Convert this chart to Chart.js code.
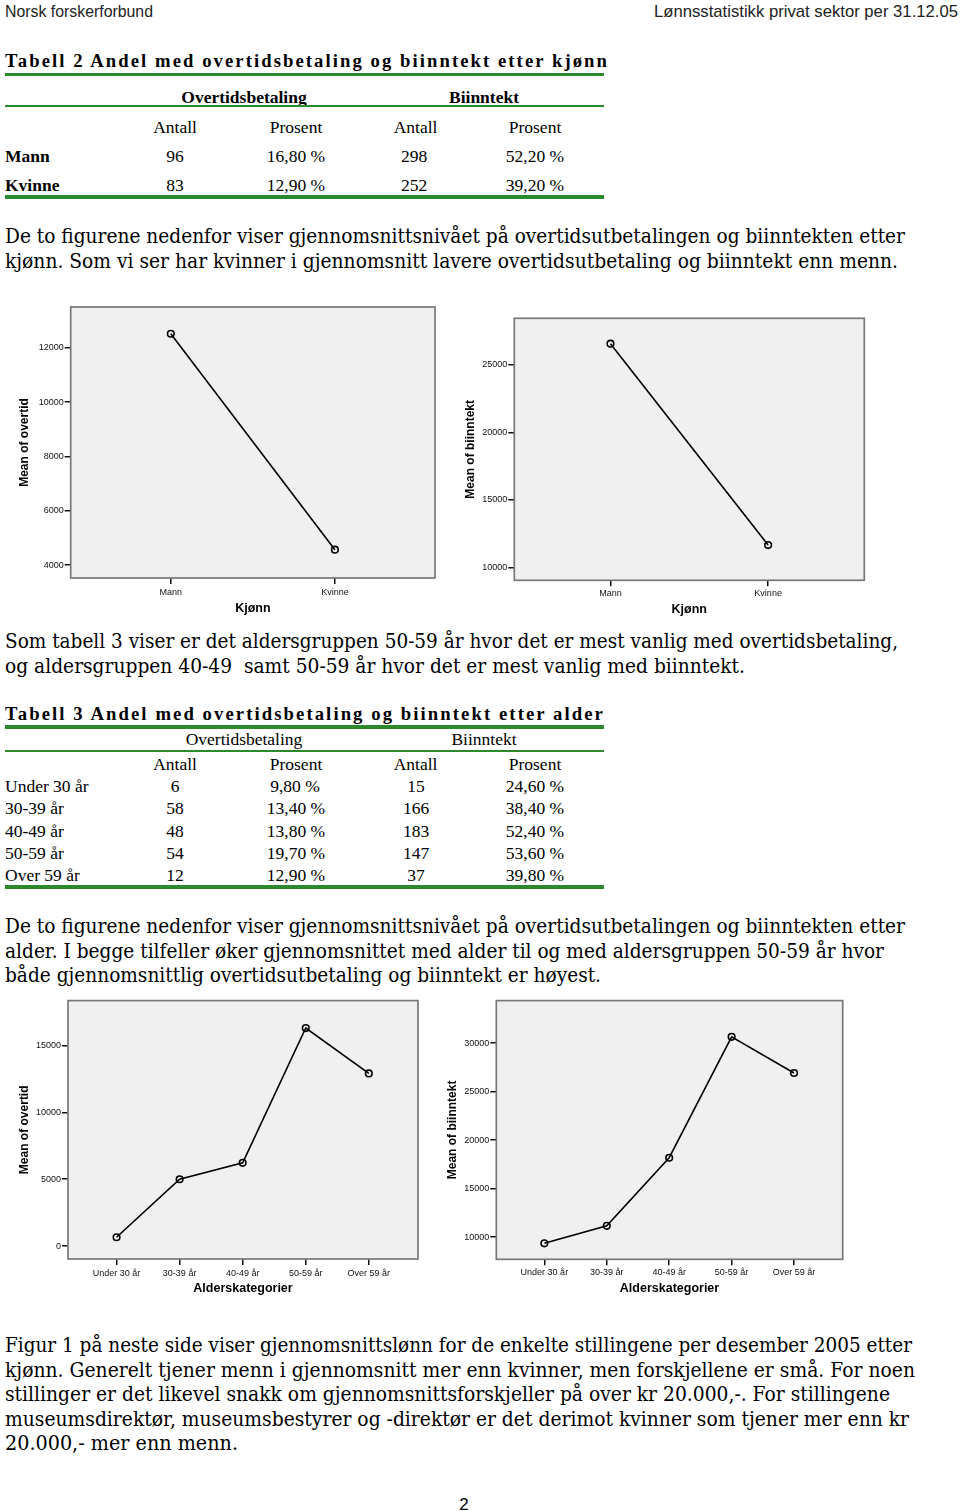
<!DOCTYPE html>
<html>
<head>
<meta charset="utf-8">
<script src="https://cdn.jsdelivr.net/npm/chart.js@4.4.1/dist/chart.umd.min.js"></script>
<style>
  html, body { margin:0; padding:0; background:#fff; }
  body { width:960px; height:1511px; position:relative; overflow:hidden; }
  .t { position:absolute; white-space:pre; color:#000; transform-origin:0 0; line-height:1.2; }
  .hdr { font-family:"Liberation Sans Narrow","Liberation Sans",Arial,sans-serif; font-size:17px; color:#222; }
  .ttl { font-family:"Liberation Serif","Times New Roman",serif; font-weight:bold; font-size:18px; letter-spacing:2px; }
  .tb { font-family:"Liberation Serif","Times New Roman",serif; font-size:17.5px; }
  .b { font-weight:bold; }
  .p { font-family:"DejaVu Serif",Georgia,serif; font-size:19.5px; }
  .pg { font-family:"Liberation Sans",Arial,sans-serif; font-size:17px; }
  .gl { position:absolute; background:#2b8a2b; left:5px; width:599px; }
  canvas { position:absolute; }
</style>
</head>
<body>
<div class="t hdr" data-x1="5" data-x2="153" data-bl="17">Norsk forskerforbund</div>
<div class="t hdr" data-x1="654" data-x2="958" data-bl="17">Lønnsstatistikk privat sektor per 31.12.05</div>

<div class="t ttl" data-x1="5" data-x2="609" data-bl="67">Tabell 2 Andel med overtidsbetaling og biinntekt etter kjønn</div>
<div class="gl" style="top:72.5px;height:3.5px;"></div>
<div class="t tb b" data-cx="244" data-bl="102.5">Overtidsbetaling</div>
<div class="t tb b" data-cx="484" data-bl="102.5">Biinntekt</div>
<div class="gl" style="top:105px;height:2px;"></div>
<div class="t tb" data-cx="175" data-bl="132.5">Antall</div>
<div class="t tb" data-cx="296" data-bl="132.5">Prosent</div>
<div class="t tb" data-cx="415.6" data-bl="132.5">Antall</div>
<div class="t tb" data-cx="535" data-bl="132.5">Prosent</div>
<div class="t tb b" data-lx="5" data-bl="161.5">Mann</div>
<div class="t tb" data-cx="175" data-bl="161.5">96</div>
<div class="t tb" data-cx="296" data-bl="161.5">16,80 %</div>
<div class="t tb" data-cx="414" data-bl="161.5">298</div>
<div class="t tb" data-cx="535" data-bl="161.5">52,20 %</div>
<div class="t tb b" data-lx="5" data-bl="191">Kvinne</div>
<div class="t tb" data-cx="175" data-bl="191">83</div>
<div class="t tb" data-cx="296" data-bl="191">12,90 %</div>
<div class="t tb" data-cx="414" data-bl="191">252</div>
<div class="t tb" data-cx="535" data-bl="191">39,20 %</div>
<div class="gl" style="top:195.3px;height:3.5px;"></div>

<div class="t p" data-x1="5" data-x2="905" data-bl="243">De to figurene nedenfor viser gjennomsnittsnivået på overtidsutbetalingen og biinntekten etter</div>
<div class="t p" data-x1="5" data-x2="898" data-bl="268">kjønn. Som vi ser har kvinner i gjennomsnitt lavere overtidsutbetaling og biinntekt enn menn.</div>

<canvas id="c1" width="450" height="320" style="left:0px;top:300px;"></canvas>
<canvas id="c2" width="450" height="310" style="left:450px;top:310px;"></canvas>

<div class="t p" data-x1="5" data-x2="898" data-bl="648">Som tabell 3 viser er det aldersgruppen 50-59 år hvor det er mest vanlig med overtidsbetaling,</div>
<div class="t p" data-x1="5" data-x2="745" data-bl="673">og aldersgruppen 40-49  samt 50-59 år hvor det er mest vanlig med biinntekt.</div>

<div class="t ttl" data-x1="5" data-x2="605" data-bl="719.5">Tabell 3 Andel med overtidsbetaling og biinntekt etter alder</div>
<div class="gl" style="top:725px;height:3.5px;"></div>
<div class="t tb" data-cx="244" data-bl="744.5">Overtidsbetaling</div>
<div class="t tb" data-cx="484" data-bl="744.5">Biinntekt</div>
<div class="gl" style="top:749.8px;height:2px;"></div>
<div class="t tb" data-cx="175" data-bl="769.5">Antall</div>
<div class="t tb" data-cx="296" data-bl="769.5">Prosent</div>
<div class="t tb" data-cx="415.6" data-bl="769.5">Antall</div>
<div class="t tb" data-cx="535" data-bl="769.5">Prosent</div>

<div class="t tb" data-lx="5" data-bl="791.5">Under 30 år</div>
<div class="t tb" data-cx="175" data-bl="791.5">6</div>
<div class="t tb" data-cx="295" data-bl="791.5">9,80 %</div>
<div class="t tb" data-cx="416" data-bl="791.5">15</div>
<div class="t tb" data-cx="535" data-bl="791.5">24,60 %</div>

<div class="t tb" data-lx="5" data-bl="814">30-39 år</div>
<div class="t tb" data-cx="175" data-bl="814">58</div>
<div class="t tb" data-cx="296" data-bl="814">13,40 %</div>
<div class="t tb" data-cx="416" data-bl="814">166</div>
<div class="t tb" data-cx="535" data-bl="814">38,40 %</div>

<div class="t tb" data-lx="5" data-bl="836.5">40-49 år</div>
<div class="t tb" data-cx="175" data-bl="836.5">48</div>
<div class="t tb" data-cx="296" data-bl="836.5">13,80 %</div>
<div class="t tb" data-cx="416" data-bl="836.5">183</div>
<div class="t tb" data-cx="535" data-bl="836.5">52,40 %</div>

<div class="t tb" data-lx="5" data-bl="858.5">50-59 år</div>
<div class="t tb" data-cx="175" data-bl="858.5">54</div>
<div class="t tb" data-cx="296" data-bl="858.5">19,70 %</div>
<div class="t tb" data-cx="416" data-bl="858.5">147</div>
<div class="t tb" data-cx="535" data-bl="858.5">53,60 %</div>

<div class="t tb" data-lx="5" data-bl="880.5">Over 59 år</div>
<div class="t tb" data-cx="175" data-bl="880.5">12</div>
<div class="t tb" data-cx="296" data-bl="880.5">12,90 %</div>
<div class="t tb" data-cx="416" data-bl="880.5">37</div>
<div class="t tb" data-cx="535" data-bl="880.5">39,80 %</div>
<div class="gl" style="top:885.3px;height:3.5px;"></div>

<div class="t p" data-x1="5" data-x2="905" data-bl="933">De to figurene nedenfor viser gjennomsnittsnivået på overtidsutbetalingen og biinntekten etter</div>
<div class="t p" data-x1="5" data-x2="884" data-bl="957.5">alder. I begge tilfeller øker gjennomsnittet med alder til og med aldersgruppen 50-59 år hvor</div>
<div class="t p" data-x1="5" data-x2="601" data-bl="982">både gjennomsnittlig overtidsutbetaling og biinntekt er høyest.</div>

<canvas id="c3" width="430" height="305" style="left:0px;top:995px;"></canvas>
<canvas id="c4" width="430" height="305" style="left:430px;top:995px;"></canvas>

<div class="t p" data-x1="5" data-x2="912" data-bl="1352">Figur 1 på neste side viser gjennomsnittslønn for de enkelte stillingene per desember 2005 etter</div>
<div class="t p" data-x1="5" data-x2="915" data-bl="1376.5">kjønn. Generelt tjener menn i gjennomsnitt mer enn kvinner, men forskjellene er små. For noen</div>
<div class="t p" data-x1="5" data-x2="890" data-bl="1401">stillinger er det likevel snakk om gjennomsnittsforskjeller på over kr 20.000,-. For stillingene</div>
<div class="t p" data-x1="5" data-x2="909" data-bl="1425.5">museumsdirektør, museumsbestyrer og -direktør er det derimot kvinner som tjener mer enn kr</div>
<div class="t p" data-x1="5" data-x2="238" data-bl="1450">20.000,- mer enn menn.</div>

<div class="t pg" data-cx="464" data-bl="1510">2</div>

<script>
// ---------- DATA ----------
const genderLabels = ['Mann', 'Kvinne'];
const overtidByGender = [12515, 4573];
const biinntektByGender = [26580, 11654];

const ageLabels = ['Under 30 år', '30-39 år', '40-49 år', '50-59 år', 'Over 59 år'];
const overtidByAge = [667, 5000, 6230, 16300, 12911];
const biinntektByAge = [9354, 11159, 18180, 30646, 26918];

const overtidGenderTicks = [4000, 6000, 8000, 10000, 12000];
const biinntektGenderTicks = [10000, 15000, 20000, 25000];
const overtidAgeTicks = [0, 5000, 10000, 15000];
const biinntektAgeTicks = [10000, 15000, 20000, 25000, 30000];

// ---------- TEXT LAYOUT ----------
document.querySelectorAll('.t').forEach(el => {
  const probe = document.createElement('span');
  probe.style.cssText = 'display:inline-block;width:0;height:0;vertical-align:baseline;';
  el.appendChild(probe);
  const w = el.getBoundingClientRect().width;
  const blOff = probe.offsetTop;
  const bl = parseFloat(el.dataset.bl);
  el.style.top = (bl - blOff) + 'px';
  if (el.dataset.x1 !== undefined) {
    const x1 = parseFloat(el.dataset.x1), x2 = parseFloat(el.dataset.x2);
    el.style.left = x1 + 'px';
    el.style.transform = 'scaleX(' + ((x2 - x1) / w) + ')';
  } else if (el.dataset.cx !== undefined) {
    el.style.left = (parseFloat(el.dataset.cx) - w / 2) + 'px';
  } else {
    el.style.left = parseFloat(el.dataset.lx) + 'px';
  }
});

// ---------- CHARTS ----------
const FONT = '"Liberation Sans", Arial, sans-serif';
const boxPlugin = {
  id: 'box',
  beforeDraw(c) {
    const {ctx, chartArea: a} = c;
    ctx.save();
    ctx.fillStyle = '#f0f0f0';
    ctx.fillRect(a.left, a.top, a.right - a.left, a.bottom - a.top);
    ctx.restore();
  },
  beforeDatasetsDraw(c) {
    const {ctx, chartArea: a} = c;
    ctx.save();
    ctx.strokeStyle = '#777';
    ctx.lineWidth = 1.7;
    ctx.strokeRect(a.left, a.top, a.right - a.left, a.bottom - a.top);
    ctx.restore();
  }
};

function makeChart(id, labels, values, yTicks, g) {
  const a = g.area;
  new Chart(document.getElementById(id), {
    type: 'line',
    data: {
      datasets: [{
        data: values.map((v, i) => ({x: i + 1, y: v})),
        borderColor: '#000',
        borderWidth: 1.6,
        pointRadius: 3.3,
        pointBorderWidth: 1.6,
        pointBackgroundColor: 'rgba(0,0,0,0)',
        pointBorderColor: '#000',
        tension: 0,
        fill: false
      }]
    },
    options: {
      responsive: false,
      animation: false,
      devicePixelRatio: 1,
      layout: {padding: {left: 0, top: a.t, right: g.w - a.r, bottom: 0}},
      plugins: {legend: {display: false}, tooltip: {enabled: false}},
      scales: {
        x: {
          type: 'linear', min: g.xMin, max: g.xMax,
          afterBuildTicks: s => { s.ticks = labels.map((_, i) => ({value: i + 1})); },
          afterFit: s => { s.height = g.h - a.b; s.paddingLeft = 0; s.paddingRight = 0; },
          ticks: {
            callback: v => labels[Math.round(v) - 1] || '',
            autoSkip: false, maxRotation: 0, minRotation: 0,
            padding: g.xLabPad, color: '#111', font: {family: FONT, size: 9}
          },
          grid: {drawOnChartArea: false, drawTicks: true, tickLength: 6, color: '#111', lineWidth: 1.5},
          border: {display: false},
          title: {
            display: true, text: g.xTitle, color: '#000',
            font: {family: FONT, size: 12.5, weight: 'bold'},
            padding: {top: 0, bottom: g.xTitleFromBottom - 7.5}
          }
        },
        y: {
          type: 'linear', min: g.yMin, max: g.yMax,
          afterBuildTicks: s => { s.ticks = yTicks.map(v => ({value: v})); },
          afterFit: s => { s.width = a.l; s.paddingTop = 0; s.paddingBottom = 0; },
          ticks: {
            callback: v => String(v),
            padding: 1, color: '#111', font: {family: FONT, size: 9}
          },
          grid: {drawOnChartArea: false, drawTicks: true, tickLength: 6, color: '#111', lineWidth: 1.5},
          border: {display: false},
          title: {
            display: true, text: g.yTitle, color: '#000',
            font: {family: FONT, size: 12, weight: 'bold'},
            padding: {top: g.yTitleX - 7.2, bottom: 0}
          }
        }
      }
    },
    plugins: [boxPlugin]
  });
}

makeChart('c1', genderLabels, overtidByGender, overtidGenderTicks, {
  w: 450, h: 320, area: {l: 70.7, r: 435, t: 7, b: 278},
  yMin: 3530, yMax: 13500, xMin: 0.39, xMax: 2.61,
  yTitle: 'Mean of overtid', xTitle: 'Kjønn', yTitleX: 25, xTitleFromBottom: 11, xLabPad: 3
});
makeChart('c2', genderLabels, biinntektByGender, biinntektGenderTicks, {
  w: 450, h: 310, area: {l: 64.3, r: 414.3, t: 8.3, b: 270.3},
  yMin: 9040, yMax: 28460, xMin: 0.39, xMax: 2.61,
  yTitle: 'Mean of biinntekt', xTitle: 'Kjønn', yTitleX: 20.5, xTitleFromBottom: 10, xLabPad: 2
});
makeChart('c3', ageLabels, overtidByAge, overtidAgeTicks, {
  w: 430, h: 305, area: {l: 68, r: 418, t: 3, b: 264},
  yMin: -960, yMax: 18350, xMin: 0.23, xMax: 5.78,
  yTitle: 'Mean of overtid', xTitle: 'Alderskategorier', yTitleX: 24.7, xTitleFromBottom: 11.7, xLabPad: 3
});
makeChart('c4', ageLabels, biinntektByAge, biinntektAgeTicks, {
  w: 430, h: 305, area: {l: 66.3, r: 412.7, t: 4.3, b: 264.3},
  yMin: 7710, yMax: 34380, xMin: 0.23, xMax: 5.78,
  yTitle: 'Mean of biinntekt', xTitle: 'Alderskategorier', yTitleX: 23, xTitleFromBottom: 11.7, xLabPad: 2
});
</script>
</body>
</html>
